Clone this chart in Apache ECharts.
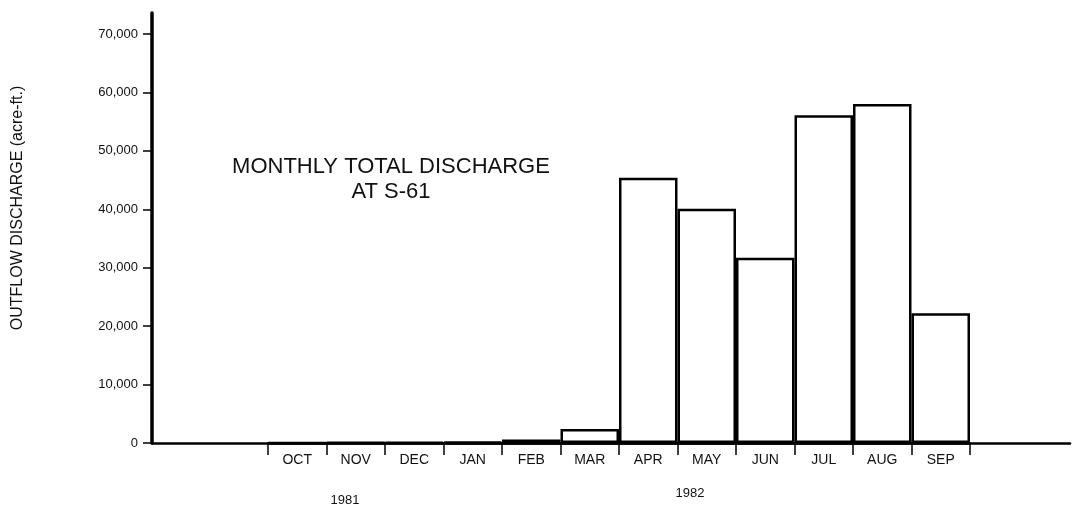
<!DOCTYPE html>
<html>
<head>
    <meta charset="utf-8">
    <title>Monthly total discharge at S-61</title>
    <script src="https://cdn.jsdelivr.net/npm/echarts@6/dist/echarts.min.js"></script>
</head>
<body style="margin:0">
<div id="main" style="width: 1072px;height:511px;"></div>
<script type="text/javascript">
    // data (acre-ft.)
    var months = ['OCT', 'NOV', 'DEC', 'JAN', 'FEB', 'MAR', 'APR', 'MAY', 'JUN', 'JUL', 'AUG', 'SEP'];
    var discharge = [0, 100, 100, 200, 600, 2400, 45400, 40100, 31700, 56100, 58000, 22200];
    var yTicks = [0, 10000, 20000, 30000, 40000, 50000, 60000, 70000];

    var myChart = echarts.init(document.getElementById('main'));
    var font = 'Liberation Sans, Arial, sans-serif';

    var option = {
        animation: false,
        backgroundColor: '#fff',
        grid: [
            // full frame: y axis line up to the top and the long baseline
            {left: 152, right: 2, top: 13, bottom: 68},
            // y axis ticks and labels
            {left: 152, right: 2, top: 34, bottom: 68},
            // month bars
            {left: 268, right: 102, top: 34, bottom: 68}
        ],
        xAxis: [
            {
                gridIndex: 0, type: 'value', min: 0, max: 1,
                axisLine: {show: true, lineStyle: {color: '#000', width: 2.5}},
                axisTick: {show: false}, axisLabel: {show: false}, splitLine: {show: false}
            },
            {
                gridIndex: 1, type: 'value', min: 0, max: 1, show: false
            },
            {
                gridIndex: 2, type: 'category', data: months, boundaryGap: true,
                axisLine: {show: true, lineStyle: {color: '#000', width: 2.5}},
                axisTick: {show: true, length: 12, lineStyle: {color: '#000', width: 1.5}},
                axisLabel: {color: '#111', fontFamily: font, fontSize: 14, margin: 10},
                splitLine: {show: false}
            }
        ],
        yAxis: [
            {
                gridIndex: 0, type: 'value', min: 0, max: 73500,
                axisLine: {show: true, lineStyle: {color: '#000', width: 3.5}},
                axisTick: {show: false}, axisLabel: {show: false}, splitLine: {show: false}
            },
            {
                gridIndex: 1, type: 'value', min: yTicks[0], max: yTicks[yTicks.length - 1], interval: 10000,
                axisLine: {show: false},
                axisTick: {show: true, length: 9, lineStyle: {color: '#000', width: 1.5}},
                axisLabel: {
                    color: '#111', fontFamily: font, fontSize: 13, margin: 14,
                    formatter: function (v) { return v.toLocaleString('en-US'); }
                },
                splitLine: {show: false}
            },
            {
                gridIndex: 2, type: 'value', min: 0, max: 70000, show: false
            }
        ],
        graphic: [
            {
                type: 'text', x: 391, y: 154,
                style: {
                    text: 'MONTHLY TOTAL DISCHARGE\nAT S-61', align: 'center',
                    fill: '#111', font: '22px Liberation Sans, Arial, sans-serif', lineHeight: 25
                }
            },
            {
                type: 'text', x: 18, y: 208, rotation: Math.PI / 2,
                style: {
                    text: 'OUTFLOW DISCHARGE (acre-ft.)', align: 'center', verticalAlign: 'middle',
                    fill: '#111', font: '16px Liberation Sans, Arial, sans-serif'
                }
            },
            {
                type: 'text', x: 345, y: 494,
                style: {text: '1981', align: 'center', fill: '#111', font: '13px Liberation Sans, Arial, sans-serif'}
            },
            {
                type: 'text', x: 690, y: 487,
                style: {text: '1982', align: 'center', fill: '#111', font: '13px Liberation Sans, Arial, sans-serif'}
            }
        ],
        series: [{
            name: 'Discharge',
            type: 'bar',
            xAxisIndex: 2,
            yAxisIndex: 2,
            barCategoryGap: 0,
            data: discharge,
            itemStyle: {color: '#fff', borderColor: '#000', borderWidth: 2.5}
        }]
    };

    myChart.setOption(option);
</script>
</body>
</html>
